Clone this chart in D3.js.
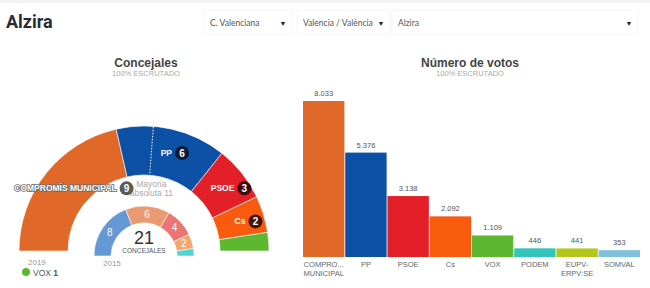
<!DOCTYPE html>
<html>
<head>
<meta charset="utf-8">
<script src="https://cdn.jsdelivr.net/npm/d3@7"></script>
<style>
  body { margin: 0; background: #fff; }
  text { font-family: "Liberation Sans", Arial, sans-serif; }
</style>
</head>
<body>
<script>
// concejales 2019
const parties = ["COMPROMÍS MUNICIPAL", "PP", "PSOE", "Cs", "VOX"];
const seats2019 = [9, 6, 3, 2, 1];
const colors2019 = ["#e0692a", "#0c51a6", "#e31f28", "#f85b0d", "#5db82f"];
const badgeColors = ["#5b5b5b", "#0a1836", "#3d0a0c", "#3d1606", "#2a4a14"];

// concejales 2015
const seats2015 = [8, 6, 4, 2, 1];
const colors2015 = ["#6499d6", "#ea9a70", "#ec7474", "#f3a66e", "#4fd4cf"];

// votos
const barLabels = [["COMPRO...", "MUNICIPAL"], ["PP"], ["PSOE"], ["Cs"], ["VOX"], ["PODEM"], ["EUPV-", "ERPV:SE"], ["SOMVAL"]];
const votes = [8033, 5376, 3138, 2092, 1109, 446, 441, 353];
const barColors = ["#e0692a", "#0c51a6", "#e31f28", "#f85b0d", "#5db82f", "#34c6bd", "#b4c51c", "#80c2da"];

const dropdowns = ["C. Valenciana", "Valencia / València", "Alzira"];

const width = 650, height = 288;
const fmt = d3.formatLocale({ decimal: ",", thousands: ".", grouping: [3], currency: ["", "€"] }).format(",d");

const svg = d3.select("body").append("svg")
    .attr("width", width)
    .attr("height", height);

// header
svg.append("rect").attr("width", width).attr("height", 3).attr("fill", "#f3f3f3");
svg.append("text")
    .attr("x", 6).attr("y", 28)
    .style("font", "bold 18px Roboto, sans-serif")
    .attr("fill", "#2b2b33")
    .text("Alzira");

const ddX = [204, 297, 392], ddW = [88, 93, 246];
dropdowns.forEach((d, i) => {
  const g = svg.append("g").attr("transform", `translate(${ddX[i]},10)`);
  g.append("rect").attr("width", ddW[i]).attr("height", 24).attr("fill", "#fff")
    .attr("stroke", "#f6f6f6");
  g.append("text").attr("x", 6).attr("y", 16)
    .style("font", "8.5px Lato, sans-serif").attr("fill", "#555").text(d);
  g.append("text").attr("x", ddW[i] - 9).attr("y", 16).attr("text-anchor", "middle")
    .style("font", "7px sans-serif").attr("fill", "#222").text("▼");
});

// titles
function title(x, t) {
  svg.append("text").attr("x", x).attr("y", 67).attr("text-anchor", "middle")
    .style("font", "bold 12px 'Liberation Sans', Arial").attr("fill", "#444").text(t);
  svg.append("text").attr("x", x).attr("y", 76).attr("text-anchor", "middle")
    .style("font", "7.5px 'Liberation Sans', Arial").attr("fill", "#aaa").text("100% ESCRUTADO");
}
title(146, "Concejales");
title(470, "Número de votos");

// hemiciclo 2019
const cx = 144, cy = 251, R = 125, r = 76;
const pie = d3.pie().sort(null).startAngle(-Math.PI / 2).endAngle(Math.PI / 2);
const arc = d3.arc().innerRadius(r).outerRadius(R);
const arcs19 = pie(seats2019);

const hemi = svg.append("g").attr("transform", `translate(${cx},${cy})`);
hemi.selectAll("path.s19")
  .data(arcs19)
  .join("path")
    .attr("class", "s19")
    .attr("d", arc)
    .attr("fill", (d, i) => colors2019[i])
    .attr("stroke", "#fff")
    .attr("stroke-width", 0.6);

// mayoría absoluta
const total = d3.sum(seats2019);
const mayoria = Math.floor(total / 2) + 1;
const angScale = d3.scaleLinear().domain([0, total]).range([-Math.PI / 2, Math.PI / 2]);
const am = angScale(mayoria);
hemi.append("line")
    .attr("x1", Math.sin(am) * (r + 2)).attr("y1", -Math.cos(am) * (r + 2))
    .attr("x2", Math.sin(am) * R).attr("y2", -Math.cos(am) * R)
    .attr("stroke", "#fff").attr("stroke-width", 1).attr("stroke-dasharray", "1.5,1.5");
const mx = Math.sin(am) * R - 2;
hemi.append("text").attr("x", mx).attr("y", -64).attr("text-anchor", "middle")
    .style("font", "8.5px 'Liberation Sans', Arial").attr("fill", "#aaa").text("Mayoria");
hemi.append("text").attr("x", mx).attr("y", -55).attr("text-anchor", "middle")
    .style("font", "8.5px 'Liberation Sans', Arial").attr("fill", "#aaa").text("absoluta " + mayoria);

// etiquetas 2019
const labelArc = d3.arc().innerRadius((r + R) / 2).outerRadius((r + R) / 2);
arcs19.forEach((d, i) => {
  if (d.data < 2) return;
  const [lx, ly] = labelArc.centroid(d);
  const t = hemi.append("text")
      .attr("x", lx).attr("y", ly + 3)
      .attr("text-anchor", "middle")
      .style("font", "bold 8.5px 'Liberation Sans', Arial")
      .attr("fill", "#fff")
      .attr("stroke", i === 0 ? "#6b6b6b" : "none")
      .attr("stroke-width", 1.6)
      .attr("paint-order", "stroke")
      .text(parties[i]);
  const w = t.node().getComputedTextLength();
  const bx = lx + w / 2 + 10;
  hemi.append("circle").attr("cx", bx).attr("cy", ly).attr("r", 7)
      .attr("fill", badgeColors[i]);
  hemi.append("text").attr("x", bx).attr("y", ly + 3.5).attr("text-anchor", "middle")
      .style("font", "bold 10px 'Liberation Sans', Arial").attr("fill", "#fff").text(d.data);
});

// hemiciclo 2015
const cy2 = 256, R2 = 50, r2 = 33;
const arc2 = d3.arc().innerRadius(r2).outerRadius(R2);
const arcs15 = pie(seats2015);
const hemi2 = svg.append("g").attr("transform", `translate(${cx},${cy2})`);
hemi2.selectAll("path")
  .data(arcs15)
  .join("path")
    .attr("d", arc2)
    .attr("fill", (d, i) => colors2015[i])
    .attr("stroke", "#fff")
    .attr("stroke-width", 0.6);
const labelArc2 = d3.arc().innerRadius((r2 + R2) / 2).outerRadius((r2 + R2) / 2);
hemi2.selectAll("text.n")
  .data(arcs15.filter(d => d.data >= 2))
  .join("text")
    .attr("class", "n")
    .attr("x", d => labelArc2.centroid(d)[0])
    .attr("y", d => labelArc2.centroid(d)[1] + 3.5)
    .attr("text-anchor", "middle")
    .style("font", "10px 'Liberation Sans', Arial")
    .attr("fill", "#fff")
    .text(d => d.data);
hemi2.append("text").attr("x", 0).attr("y", -12).attr("text-anchor", "middle")
    .style("font", "18px 'Liberation Sans', Arial").attr("fill", "#333").text(d3.sum(seats2015));
hemi2.append("text").attr("x", 0).attr("y", -3).attr("text-anchor", "middle")
    .style("font", "6.5px 'Liberation Sans', Arial").attr("fill", "#555").text("CONCEJALES");

// años
svg.append("text").attr("x", 28).attr("y", 265)
    .style("font", "8px 'Liberation Sans', Arial").attr("fill", "#999").text("2019");
svg.append("text").attr("x", 103).attr("y", 266)
    .style("font", "8px 'Liberation Sans', Arial").attr("fill", "#999").text("2015");

// leyenda partidos sin etiqueta
const small = arcs19.map((d, i) => i).filter(i => seats2019[i] < 2);
small.forEach((i, k) => {
  const g = svg.append("g").attr("transform", `translate(26,${272 + k * 10})`);
  g.append("circle").attr("r", 4).attr("fill", colors2019[i]);
  const t = g.append("text").attr("x", 7).attr("y", 3.5)
      .style("font", "8.5px 'Liberation Sans', Arial").attr("fill", "#555");
  t.append("tspan").text(parties[i] + " ");
  t.append("tspan").style("font-weight", "bold").text(seats2019[i]);
});

// barras
const x = d3.scaleBand().domain(d3.range(votes.length)).range([303, 640]).paddingInner(0.02);
const y = d3.scaleLinear().domain([0, d3.max(votes)]).range([257, 101]);

svg.selectAll("rect.bar")
  .data(votes)
  .join("rect")
    .attr("class", "bar")
    .attr("x", (d, i) => x(i))
    .attr("y", d => y(d))
    .attr("width", x.bandwidth())
    .attr("height", d => y(0) - y(d))
    .attr("fill", (d, i) => barColors[i]);

svg.selectAll("text.val")
  .data(votes)
  .join("text")
    .attr("class", "val")
    .attr("x", (d, i) => x(i) + x.bandwidth() / 2)
    .attr("y", d => y(d) - 5)
    .attr("text-anchor", "middle")
    .style("font", "7.5px 'Liberation Sans', Arial")
    .attr("fill", "#555")
    .text(d => fmt(d));

barLabels.forEach((lines, i) => {
  const t = svg.append("text")
      .attr("x", x(i) + x.bandwidth() / 2)
      .attr("y", 267)
      .attr("text-anchor", "middle")
      .style("font", "7.5px 'Liberation Sans', Arial")
      .attr("fill", "#666");
  lines.forEach((l, j) => t.append("tspan")
      .attr("x", x(i) + x.bandwidth() / 2)
      .attr("dy", j ? 9 : 0)
      .text(l));
});
</script>
</body>
</html>
